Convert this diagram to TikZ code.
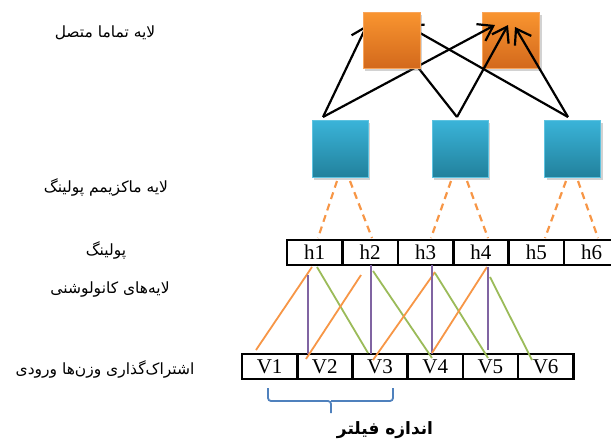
\documentclass[tikz,border=0pt]{standalone}
\usepackage{fontspec}
\setmainfont{Liberation Serif}
\newfontfamily\fafont[Script=Arabic]{DejaVu Sans}
\TeXXeTstate=1
\usetikzlibrary{arrows.meta,shadows}
\definecolor{orTop}{HTML}{F99530}
\definecolor{orBot}{HTML}{D3691C}
\definecolor{orEdge}{HTML}{F9A55A}
\definecolor{blTop}{HTML}{3AB4D9}
\definecolor{blBot}{HTML}{22819C}
\definecolor{blEdge}{HTML}{5EC3E0}
\definecolor{lnOrange}{HTML}{F79646}
\definecolor{lnPurple}{HTML}{8064A2}
\definecolor{lnGreen}{HTML}{9BBB59}
\definecolor{brBlue}{HTML}{4F81BD}
\tikzset{
  sqshadow/.style={drop shadow={opacity=0.35,shadow xshift=2pt,shadow yshift=-3pt}},
  orsq/.style={minimum width=57pt,minimum height=56pt,inner sep=0pt,top color=orTop,bottom color=orBot,draw=orEdge,line width=1pt,sqshadow},
  blsq/.style={minimum width=56pt,minimum height=57pt,inner sep=0pt,top color=blTop,bottom color=blBot,draw=blEdge,line width=1pt,sqshadow},
  arr/.style={black,line width=2.2pt,-{Straight Barb[length=14pt,width=19pt]}},
  dsh/.style={lnOrange,line width=2.2pt,dash pattern=on 7pt off 5pt},
  hcell/.style={draw,line width=2.6pt,minimum width=55.4pt,minimum height=25pt,inner sep=0pt,font=\fontsize{21}{21}\selectfont},
  vcell/.style={draw,line width=2.6pt,minimum width=55.2pt,minimum height=25pt,inner sep=0pt,font=\fontsize{21}{21}\selectfont},
  lo/.style={lnOrange,line width=1.8pt},
  lp/.style={lnPurple,line width=1.8pt},
  lg/.style={lnGreen,line width=1.8pt},
  fa/.style={font=\fafont\fontsize{15.5}{15.5}\selectfont},
  fab/.style={font=\fafont\bfseries\fontsize{17}{17}\selectfont},
  bracestyle/.style={brBlue,line width=1.8pt,rounded corners=3pt}
}
\begin{document}
\begin{tikzpicture}[x=1pt,y=-1pt]
\useasboundingbox (0,0) rectangle (611,442);
\clip (0,0) rectangle (611,442);
\fill[white] (0,0) rectangle (611,442);
% blue squares
\node[blsq] (b1) at (340,148.5) {};
\node[blsq] (b2) at (460,148.5) {};
\node[blsq] (b3) at (572.5,148.5) {};
% right orange square (below its arrows)
\node[orsq] (o2) at (511,40) {};
% arrow endpoints
\coordinate (a1) at (323,117);
\coordinate (a2) at (457,117);
\coordinate (a3) at (568,117);
\coordinate (t1L) at (367,25);
\coordinate (t1R) at (495,25);
\coordinate (t2L) at (398,42);
\coordinate (t2R) at (508,25);
\coordinate (t3L) at (406,25);
\coordinate (t3R) at (515,27);
\draw[arr] (a1) -- (t1L);
\draw[arr] (a1) -- (t1R);
\draw[arr] (a2) -- (t2L);
\draw[arr] (a2) -- (t2R);
\draw[arr] (a3) -- (t3L);
\draw[arr] (a3) -- (t3R);
% left orange square (covers its arrows)
\node[orsq] (o1) at (391.5,40) {};
% h row
\foreach \i in {1,...,6} {
  \node[hcell] (h\i) at ({314.7+55.4*(\i-1)},252.5) {h\i};
}
% V row
\foreach \i in {1,...,6} {
  \node[vcell] (v\i) at ({269.6+55.2*(\i-1)},366.5) {V\i};
}
% dashed pooling lines
\coordinate (d1a) at (337,181); \coordinate (d1b) at (318,238);
\coordinate (d2a) at (350,181); \coordinate (d2b) at (372,238);
\coordinate (d3a) at (451,181); \coordinate (d3b) at (431,238);
\coordinate (d4a) at (467,181); \coordinate (d4b) at (488,238);
\coordinate (d5a) at (566,181); \coordinate (d5b) at (545,238);
\coordinate (d6a) at (578,181); \coordinate (d6b) at (598,238);
\foreach \k in {1,...,6} { \draw[dsh] (d\k a) -- (d\k b); }
% convolution lines
\coordinate (oa1) at (312,267); \coordinate (ob1) at (256,350);
\coordinate (oa2) at (361,275); \coordinate (ob2) at (306,359);
\coordinate (oa3) at (435,272); \coordinate (ob3) at (373,360);
\coordinate (oa4) at (487,267); \coordinate (ob4) at (432,353);
\coordinate (pa1) at (308,275); \coordinate (pb1) at (308,354);
\coordinate (pa2) at (371,265); \coordinate (pb2) at (371,354);
\coordinate (pa3) at (432,265); \coordinate (pb3) at (432,354);
\coordinate (pa4) at (488,267); \coordinate (pb4) at (488,350);
\coordinate (ga1) at (317,267); \coordinate (gb1) at (368,353);
\coordinate (ga2) at (373,271); \coordinate (gb2) at (432,358);
\coordinate (ga3) at (435,273); \coordinate (gb3) at (488,358);
\coordinate (ga4) at (490,277); \coordinate (gb4) at (532,360);
\foreach \k in {1,...,4} {
  \draw[lo] (oa\k) -- (ob\k);
  \draw[lp] (pa\k) -- (pb\k);
  \draw[lg] (ga\k) -- (gb\k);
}
% brace
\coordinate (brL) at (268,388);
\coordinate (brR) at (393,388);
\coordinate (brM) at (331,401);
\coordinate (brT) at (331,413);
\draw[bracestyle] (brL) |- (brM) -- (brT);
\draw[bracestyle] (brR) |- (brM);
% labels
\node[fa] (l1) at (105,33) {\beginR لایه تماما متصل\endR};
\node[fa] (l2) at (106,187) {\beginR لایه ماکزیمم پولینگ\endR};
\node[fa] (l3) at (106,250) {\beginR پولینگ\endR};
\node[fa] (l4) at (110,290) {\beginR لایه‌های کانولوشنی\endR};
\node[fa] (l5) at (105,369) {\beginR اشتراک‌گذاری وزن‌ها ورودی\endR};
\node[fab] (l6) at (385,430) {\beginR اندازه فیلتر\endR};
\end{tikzpicture}
\end{document}
